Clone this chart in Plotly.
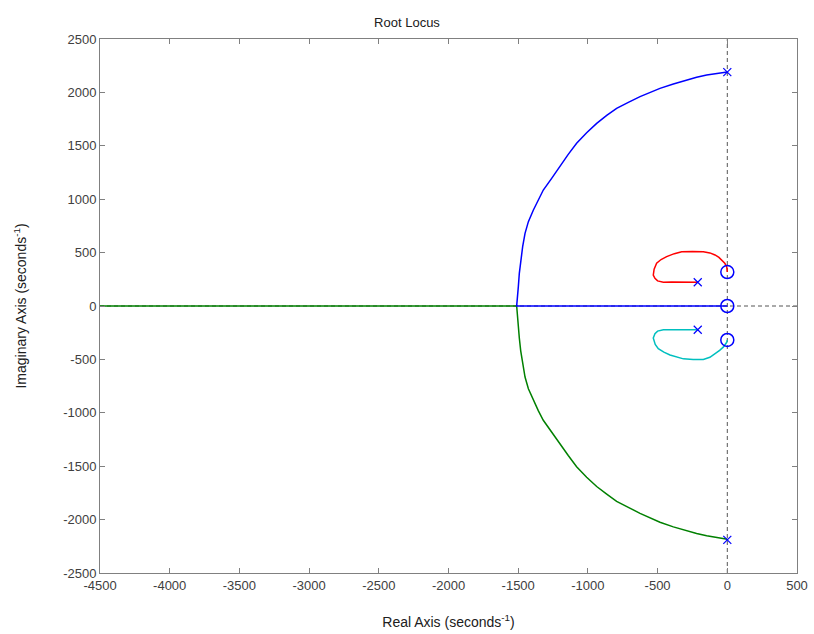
import plotly.graph_objects as go

# Poles and zeros
pole_re = [0, 0, -212, -212]
pole_im = [2190, -2190, 222, -222]
zero_re = [0, 0, 0]
zero_im = [0, 318, -318]

# Blue branch: upper pole -> breakaway -> origin zero
blue_re = [0, -76, -148, -220, -292, -387, -483, -555, -626, -710, -794, -865, -937, -1009,
           -1081, -1141, -1200, -1260, -1320, -1356, -1391, -1427, -1451, -1468, -1482, -1492,
           -1499, -1506, -1511, -1511, 0]
blue_im = [2190, 2178, 2163, 2141, 2116, 2079, 2038, 2001, 1960, 1907, 1851, 1785, 1710, 1623,
           1523, 1420, 1305, 1195, 1086, 993, 899, 790, 680, 556, 431, 306,
           181, 56, 0, 0, 0]

# Green branch: lower pole -> breakaway -> -infinity
green_re = [0, -76, -148, -220, -292, -387, -483, -555, -626, -710, -794, -865, -937, -1009,
            -1081, -1141, -1200, -1260, -1320, -1356, -1391, -1427, -1451, -1468, -1482, -1492,
            -1499, -1506, -1511, -4500]
green_im = [-2185, -2170, -2152, -2130, -2105, -2068, -2025, -1985, -1942, -1885, -1830, -1762,
            -1690, -1603, -1505, -1400, -1290, -1180, -1070, -980, -885, -775, -665, -545, -420,
            -300, -175, -55, 0, 0]

# Red branch: upper complex pole -> upper zero
red_re = [-212, -275, -340, -400, -459, -500, -519, -531, -525, -507, -475, -435, -380, -327,
          -250, -172, -125, -88, -60, -40, -18, -4, 0]
red_im = [222, 225, 228, 225, 222, 235, 259, 290, 345, 400, 435, 462, 490, 508,
          510, 508, 497, 478, 455, 431, 400, 368, 318]

# Cyan branch: lower complex pole -> lower zero
cyan_re = [-212, -265, -315, -390, -459, -500, -519, -531, -517, -495, -455, -411, -360, -315,
           -245, -172, -125, -88, -55, -29, -12, -4, 0]
cyan_im = [-222, -222, -222, -222, -222, -235, -259, -300, -360, -400, -432, -459, -482, -495,
           -500, -500, -480, -450, -415, -385, -358, -340, -318]

x_ticks = [-4500, -4000, -3500, -3000, -2500, -2000, -1500, -1000, -500, 0, 500]
y_ticks = [-2500, -2000, -1500, -1000, -500, 0, 500, 1000, 1500, 2000, 2500]

fig = go.Figure()

# Dotted axes lines through origin
fig.add_trace(go.Scatter(x=[0, 0], y=[-2500, 2500], mode="lines",
                         line=dict(color="#555555", width=1, dash="4px,3px"),
                         hoverinfo="skip", showlegend=False))
fig.add_trace(go.Scatter(x=[-4500, 500], y=[0, 0], mode="lines",
                         line=dict(color="#555555", width=1, dash="4px,3px"),
                         hoverinfo="skip", showlegend=False))

fig.add_trace(go.Scatter(x=green_re, y=green_im, mode="lines",
                         line=dict(color="#008000", width=1.5), showlegend=False))
fig.add_trace(go.Scatter(x=blue_re, y=blue_im, mode="lines",
                         line=dict(color="#0000FF", width=1.5), showlegend=False))
fig.add_trace(go.Scatter(x=red_re, y=red_im, mode="lines",
                         line=dict(color="#FF0000", width=1.5), showlegend=False))
fig.add_trace(go.Scatter(x=cyan_re, y=cyan_im, mode="lines",
                         line=dict(color="#00BFBF", width=1.5), showlegend=False))

fig.add_trace(go.Scatter(x=pole_re, y=pole_im, mode="markers",
                         marker=dict(symbol="x-thin-open", size=8, color="#0000FF",
                                     line=dict(color="#0000FF", width=1.2)),
                         showlegend=False))
fig.add_trace(go.Scatter(x=zero_re, y=zero_im, mode="markers",
                         marker=dict(symbol="circle-open", size=13, color="#0000FF",
                                     line=dict(color="#0000FF", width=1.5)),
                         showlegend=False))

axis_common = dict(
    showgrid=False, zeroline=False, showline=True, linecolor="#808080", linewidth=1,
    mirror="ticks", ticks="inside", ticklen=5, tickcolor="#808080", automargin=False,
    tickfont=dict(family="Liberation Sans, Arial, sans-serif", size=13, color="#404040"),
)

fig.update_layout(
    template="none",
    width=814, height=634,
    margin=dict(l=100, r=17, t=39, b=61),
    paper_bgcolor="white", plot_bgcolor="white",
    title=dict(text="Root Locus", x=0.5, xanchor="center", y=0.965, yanchor="middle",
               font=dict(family="Liberation Sans, Arial, sans-serif", size=13, color="#202020")),
    xaxis=dict(range=[-4500, 500], tickvals=x_ticks, ticktext=[str(v) for v in x_ticks],
               title=dict(text="Real Axis (seconds<sup>-1</sup>)", standoff=25,
                          font=dict(family="Liberation Sans, Arial, sans-serif", size=14, color="#202020")),
               **axis_common),
    yaxis=dict(range=[-2500, 2500], tickvals=y_ticks, ticktext=[str(v) for v in y_ticks],
               title=dict(text="Imaginary Axis (seconds<sup>-1</sup>)", standoff=33,
                          font=dict(family="Liberation Sans, Arial, sans-serif", size=14, color="#202020")),
               **axis_common),
)

fig.write_html("out.html")
